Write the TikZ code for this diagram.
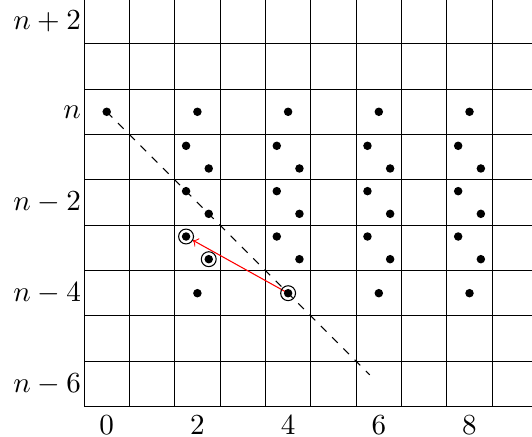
\documentclass[tikz,border=0pt]{standalone}
\usetikzlibrary{backgrounds}
\begin{document}
\begin{tikzpicture}[x=0.6cm,y=0.6cm,
  dot/.style={circle,fill=black,inner sep=0pt,minimum size=3.2pt},
  ring/.style={circle,draw=black,inner sep=0pt,minimum size=5.6pt},
  ylab/.style={anchor=east,inner sep=1pt,font=\fontsize{11pt}{13pt}\selectfont},
  xlab/.style={anchor=north,font=\fontsize{11pt}{13pt}\selectfont},
  gridline/.style={draw=black,line width=0.4pt},
  diag/.style={dashed,line width=0.4pt},
  jump/.style={red,->,line width=0.4pt}]
\useasboundingbox (-2.353,-7.171) rectangle (9.378,2.465);
% labels
\node[ylab] (ln2) at (-0.5,2) {$n+2$};
\node[ylab] (ln0) at (-0.5,0) {$n$};
\node[ylab] (lm2) at (-0.5,-2) {$n-2$};
\node[ylab] (lm4) at (-0.5,-4) {$n-4$};
\node[ylab] (lm6) at (-0.5,-6) {$n-6$};
\foreach \k in {0,2,4,6,8} {
  \node[xlab] (x\k) at (\k,-6.5) {$\k$};
}
% rings
\node[ring] (r1) at (1.75,-2.75) {};
\node[ring] (r2) at (2.25,-3.25) {};
\node[ring] (r3) at (4,-4) {};
% dots
\node[dot] (d0) at (0,0) {};
\foreach \k in {2,4,6,8} {
  \node[dot] (a\k) at (\k,0) {};
  \node[dot] (b\k) at (\k-0.25,-0.75) {};
  \node[dot] (c\k) at (\k+0.25,-1.25) {};
  \node[dot] (e\k) at (\k-0.25,-1.75) {};
  \node[dot] (f\k) at (\k+0.25,-2.25) {};
  \node[dot] (g\k) at (\k-0.25,-2.75) {};
  \node[dot] (h\k) at (\k+0.25,-3.25) {};
  \node[dot] (i\k) at (\k,-4) {};
}
\coordinate (dend) at (5.8,-5.8);
\begin{scope}[on background layer]
  \clip (-2.353,-7.171) rectangle (9.378,2.465);
  \draw[gridline,step=1,shift={(-0.5,-0.5)}] (0,-6) grid (10,3);
  \draw[diag] (d0.center) -- (dend);
  \draw[jump] (r3.center) -- (r1);
\end{scope}
\end{tikzpicture}
\end{document}
